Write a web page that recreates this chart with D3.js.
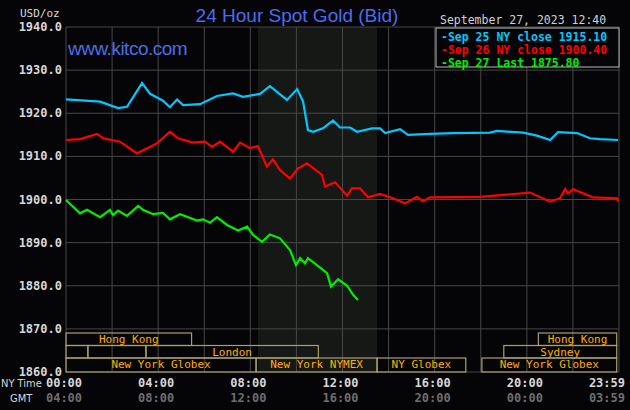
<!DOCTYPE html>
<html><head><meta charset="utf-8">
<script src="https://cdn.jsdelivr.net/npm/d3@7"></script>
<style>body{margin:0;background:#050507}svg{display:block}</style></head>
<body><svg id="c" width="630" height="410"></svg>
<script>
const yTicks=[1860,1870,1880,1890,1900,1910,1920,1930,1940];
const nyLabels=["00:00","04:00","08:00","12:00","16:00","20:00","23:59"];
const gmtLabels=["04:00","08:00","12:00","16:00","20:00","00:00","03:59"];
const labelHours=[0,4,8,12,16,20,24];
const legendLabels=["Sep 25 NY close 1915.10","Sep 26 NY close 1900.40","Sep 27 Last 1875.80"];
const sep25=[[0,1923.2],[1.48,1922.7],[2.26,1921.2],[2.65,1921.5],[3.30,1927.0],[3.65,1924.5],[4.21,1922.9],[4.51,1921.4],[4.82,1923.2],[5.08,1921.9],[5.82,1922.1],[6.55,1924.0],[7.25,1924.6],[7.68,1923.8],[8.42,1924.5],[8.85,1926.3],[9.59,1923.1],[10.03,1925.6],[10.29,1922.7],[10.50,1916.1],[10.72,1915.7],[11.15,1916.5],[11.59,1918.3],[11.89,1916.7],[12.33,1916.7],[12.63,1915.7],[13.28,1916.5],[13.63,1916.5],[13.85,1915.4],[14.50,1916.3],[14.84,1915.0],[15.80,1915.2],[16.80,1915.4],[18.40,1915.5],[18.71,1915.9],[19.84,1915.5],[20.44,1914.8],[21.01,1913.8],[21.35,1915.6],[22.18,1915.4],[22.74,1914.2],[23.18,1914.0],[23.96,1913.8]];
const sep26=[[0,1913.8],[0.61,1914.0],[1.35,1915.2],[1.61,1914.2],[2.34,1913.4],[3.08,1910.7],[3.95,1913.0],[4.51,1915.7],[4.86,1914.2],[5.51,1913.2],[6.03,1913.4],[6.34,1912.2],[6.68,1913.4],[7.25,1911.1],[7.55,1913.2],[7.99,1911.9],[8.33,1912.4],[8.72,1907.6],[8.98,1909.3],[9.29,1906.8],[9.72,1904.9],[10.07,1907.2],[10.46,1908.4],[11.11,1905.7],[11.24,1903.0],[11.68,1904.0],[12.20,1900.9],[12.41,1902.6],[12.76,1902.6],[13.11,1900.5],[13.63,1901.3],[14.19,1900.3],[14.71,1899.1],[15.23,1900.6],[15.49,1899.6],[15.80,1900.5],[17.97,1900.6],[20.14,1901.6],[21.01,1899.5],[21.44,1900.3],[21.66,1902.4],[21.79,1901.4],[22.01,1902.4],[22.87,1900.5],[23.92,1900.3],[23.96,1899.5]];
const sep27=[[0,1899.9],[0.61,1896.8],[0.91,1897.6],[1.48,1895.9],[1.91,1897.6],[2.04,1896.4],[2.26,1897.4],[2.65,1896.2],[3.13,1898.5],[3.34,1897.6],[3.78,1896.6],[4.21,1896.9],[4.51,1895.4],[4.95,1896.6],[5.69,1895.1],[5.95,1895.4],[6.25,1894.6],[6.55,1895.9],[6.99,1894.1],[7.47,1892.8],[7.86,1893.7],[8.12,1891.8],[8.51,1890.2],[8.85,1891.9],[9.29,1891.0],[9.72,1888.3],[9.98,1884.8],[10.16,1886.4],[10.37,1885.2],[10.50,1886.4],[10.89,1884.8],[11.33,1882.9],[11.50,1879.8],[11.81,1881.5],[12.20,1880.0],[12.46,1877.9],[12.67,1876.7]];
// sessions: [row, startHour, endHour, label]
const sessions=[[0,0,5.45,"Hong Kong"],[0,20.5,23.9,"Hong Kong"],[1,0,0.95,""],[1,0.95,3.47,""],[1,3.47,10.95,"London"],[1,19.0,23.9,"Sydney"],[2,0,8.25,"New York Globex"],[2,8.25,13.5,"New York NYMEX"],[2,13.5,17.35,"NY Globex"],[2,18.05,23.9,"New York Globex"]];
const shade=[8.33,13.5];

const svg=d3.select("#c");
const x=d3.scaleLinear().domain([0,24]).range([66,619]);
const y=d3.scaleLinear().domain([1860,1940]).range([372,27]);
const mono="'DejaVu Sans Mono','Liberation Mono',monospace";
svg.append("rect").attr("width",630).attr("height",410).attr("fill","#050507");
svg.append("rect").attr("x",x(shade[0])).attr("y",y(1940)).attr("width",x(shade[1])-x(shade[0])).attr("height",y(1860)-y(1940)).attr("fill","#151814");
const g=svg.append("g");
g.selectAll(".v").data(d3.range(0,25,2)).join("line").attr("x1",d=>x(d)).attr("x2",d=>x(d)).attr("y1",y(1940)).attr("y2",y(1860)).attr("stroke","#474747");
g.selectAll(".h").data(yTicks).join("line").attr("x1",x(0)).attr("x2",x(24)).attr("y1",d=>y(d)).attr("y2",d=>y(d)).attr("stroke","#474747");
svg.selectAll(".yl").data(yTicks).join("text").attr("x",62).attr("y",d=>y(d)+4).attr("text-anchor","end").attr("fill","#d8d8d8").attr("font-family",mono).attr("font-size",12).attr("font-weight","bold").text(d=>d.toFixed(1));
svg.append("text").attr("x",20).attr("y",17).attr("fill","#d8d8d8").attr("font-family",mono).attr("font-size",11).text("USD/oz");
// sessions
const rowY=[333,345.5,358,372];
const sg=svg.selectAll(".s").data(sessions).join("g");
sg.append("rect").attr("x",d=>x(d[1])).attr("y",d=>rowY[d[0]]).attr("width",d=>x(d[2])-x(d[1])).attr("height",d=>rowY[d[0]+1]-rowY[d[0]]).attr("fill","none").attr("stroke","#a8a070").attr("stroke-width",1.2);
sg.append("text").attr("x",d=>(x(d[1])+x(d[2]))/2).attr("y",d=>rowY[d[0]]+10).attr("text-anchor","middle").attr("fill","#ffb000").attr("font-family",mono).attr("font-size",11).text(d=>d[3]);
// lines
const line=d3.line().x(d=>x(d[0])).y(d=>y(d[1]));
[[sep25,"#00c8ff"],[sep26,"#ff0000"],[sep27,"#00ee00"]].forEach(([d,c])=>svg.append("path").attr("d",line(d)).attr("fill","none").attr("stroke",c).attr("stroke-width",2.2));
// axes labels
svg.selectAll(".nt").data(labelHours).join("text").attr("x",(d,i)=>i==6?625:x(d)-2).attr("y",387).attr("text-anchor",(d,i)=>i==6?"end":"middle").attr("fill","#d8d8d8").attr("font-family",mono).attr("font-size",12).attr("font-weight","bold").text((d,i)=>nyLabels[i]);
svg.selectAll(".gt").data(labelHours).join("text").attr("x",(d,i)=>i==6?625:x(d)-2).attr("y",402).attr("text-anchor",(d,i)=>i==6?"end":"middle").attr("fill","#6e6e6e").attr("font-family",mono).attr("font-size",12).attr("font-weight","bold").text((d,i)=>gmtLabels[i]);
svg.append("text").attr("x",1).attr("y",387).attr("fill","#d8d8d8").attr("font-family","'Liberation Sans Narrow','DejaVu Sans Condensed',sans-serif").attr("font-size",11).text("NY Time");
svg.append("text").attr("x",10).attr("y",402).attr("fill","#d8d8d8").attr("font-family","'DejaVu Sans Condensed',sans-serif").attr("font-size",11).text("GMT");
// title
svg.append("text").attr("x",297).attr("y",22).attr("text-anchor","middle").attr("fill","#4a6cf0").attr("font-family","'Liberation Sans',Arial,sans-serif").attr("font-size",19).text("24 Hour Spot Gold (Bid)");
svg.append("text").attr("x",68).attr("y",55).attr("fill","#4a6ee8").attr("font-family","'Liberation Sans',Arial,sans-serif").attr("font-size",19).attr("letter-spacing",-0.5).text("www.kitco.com");
svg.append("text").attr("x",440).attr("y",24).attr("fill","#d0d0d0").attr("font-family",mono).attr("font-size",11.5).text("September 27, 2023 12:40");
svg.append("rect").attr("x",436).attr("y",28).attr("width",183).attr("height",39).attr("fill","#050507").attr("stroke","#bbb").attr("stroke-width",1);
const lc=["#00c8ff","#ff0000","#00ee00"];
svg.selectAll(".lg").data(legendLabels).join("text").attr("x",441).attr("y",(d,i)=>41+i*13).attr("fill",(d,i)=>lc[i]).attr("font-family",mono).attr("font-size",11.5).attr("font-weight","bold").text(d=>"-"+d);
</script></body></html>
